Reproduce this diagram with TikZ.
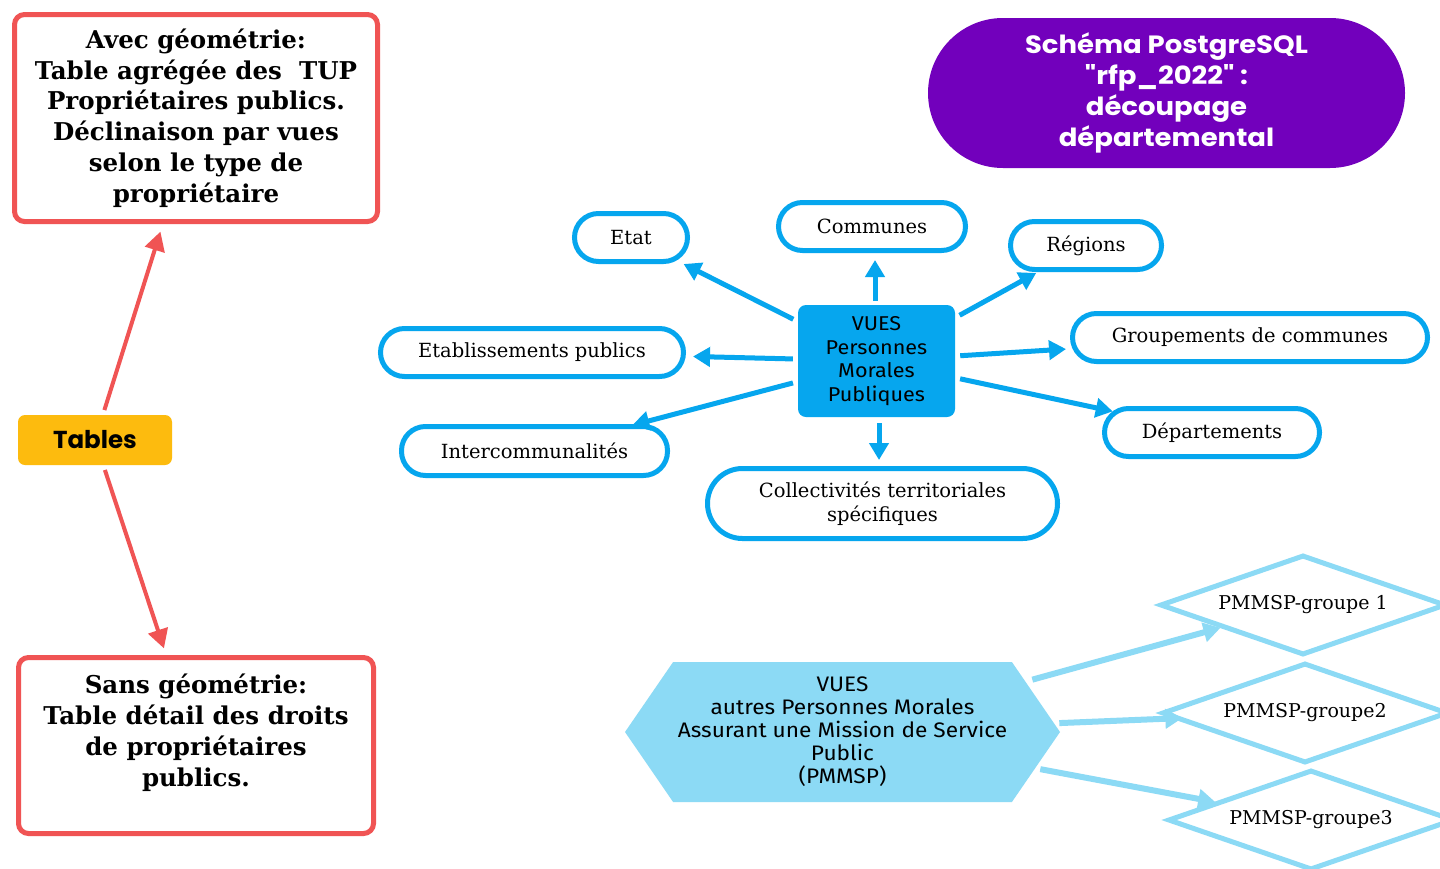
\documentclass[tikz,border=0pt]{standalone}
\usepackage{fontspec}
\setmainfont{DejaVu Serif}
\newfontfamily\popfont[FakeStretch=1.1]{Poppins}
\newfontfamily\popplain{Poppins}
\newfontfamily\firafont[FakeStretch=1.08]{Fira Sans}
\usetikzlibrary{arrows.meta,shapes.geometric,shapes.symbols}
\definecolor{redc}{RGB}{240,84,84}
\definecolor{yel}{RGB}{253,187,14}
\definecolor{purp}{RGB}{114,0,188}
\definecolor{blu}{RGB}{6,166,238}
\definecolor{lblu}{RGB}{140,218,245}
\begin{document}
\begin{tikzpicture}[x=1pt,y=-1pt,
  redbox/.style={draw=redc, line width=5pt, rounded corners=10pt, fill=white, align=center,
    font=\fontsize{24.5}{30.7}\selectfont\bfseries, inner sep=0pt},
  pill/.style={draw=blu, line width=5pt, rounded corners=24pt, fill=white, align=center,
    font=\fontsize{19.5}{24}\selectfont, inner sep=0pt, minimum height=48pt},
  dia/.style={diamond, aspect=2.86, draw=lblu, line width=5pt, fill=white, inner sep=0pt,
    minimum width=286pt, minimum height=100pt, font=\fontsize{19}{22}\selectfont},
  bluarrow/.style={draw=blu, line width=5pt, -{Triangle[length=17pt,width=19pt]}},
  lbluarrow/.style={draw=lblu, line width=6pt, -{Triangle[length=17pt,width=19pt]}},
  redarrow/.style={draw=redc, line width=4pt, -{Triangle[length=19pt,width=20pt]}}
]
\useasboundingbox (0,0) rectangle (1440,868);
\clip (0,0) rectangle (1440,868);
\fill[white] (0,0) rectangle (1440,868);

% left column
\node[redbox, minimum width=363pt, minimum height=207pt] (avec) at (196,118)
  {Avec géométrie:\\Table agrégée des\ \ TUP\\Propriétaires publics.\\Déclinaison par vues\\selon le type de\\propriétaire};
\node[redbox, minimum width=355pt, minimum height=176pt] (sans) at (196,745.5)
  {Sans géométrie:\\Table détail des droits\\de propriétaires\\publics.\\ \mbox{}};
\node[fill=yel, rounded corners=7pt, minimum width=154pt, minimum height=50pt, inner sep=0pt,
  font=\popplain\bfseries\fontsize{24.5}{28}\selectfont] (tables) at (95,440) {Tables};
\draw[redarrow, shorten <=5pt, shorten >=8pt] (tables) -- (avec);
\draw[redarrow, shorten <=5pt, shorten >=7pt] (tables) -- (sans);

% title
\node[fill=purp, rounded corners=75pt, minimum width=477pt, minimum height=150pt, inner sep=0pt,
  text=white, align=center, font=\popfont\bfseries\fontsize{25}{31}\selectfont] (title) at (1166.5,93)
  {Schéma PostgreSQL\\"rfp\_2022" :\\découpage\\départemental};

% central star
\node[fill=blu, rounded corners=8pt, minimum width=157pt, minimum height=112pt, inner sep=0pt,
  align=center, font=\firafont\fontsize{20}{23.5}\selectfont] (vues) at (876.5,361)
  {VUES\\Personnes\\Morales\\Publiques};
\node[pill, minimum width=113pt] (etat) at (631,237.5) {Etat};
\node[pill, minimum width=187pt] (communes) at (872,226.5) {Communes};
\node[pill, minimum width=151pt] (regions) at (1086,245.5) {Régions};
\node[pill, minimum width=303pt] (etab) at (532,352.5) {Etablissements publics};
\node[pill, minimum width=355pt] (grp) at (1250,337.5) {Groupements de communes};
\node[pill, minimum width=266pt, minimum height=49pt] (inter) at (534.5,451) {Intercommunalités};
\node[pill, minimum width=215pt] (dep) at (1212,432.5) {Départements};
\node[pill, minimum width=350pt, minimum height=70pt, rounded corners=35pt] (coll) at (882.5,503.5)
  {Collectivités territoriales\\spécifiques};

\draw[bluarrow, shorten <=5pt, shorten >=0pt] (vues) -- (etat);
\draw[bluarrow, shorten <=4pt, shorten >=7pt] ([xshift=-1.5pt]vues.north) -- ([xshift=-1.5pt]vues.north |- communes.south);
\draw[bluarrow, shorten <=5pt, shorten >=2pt] (vues) -- (regions);
\draw[bluarrow, shorten <=5pt, shorten >=7pt] (vues) -- (etab);
\draw[bluarrow, shorten <=5pt, shorten >=4pt] (vues) -- (grp);
\draw[bluarrow, shorten <=5pt, shorten >=-5pt] (vues) -- (inter);
\draw[bluarrow, shorten <=5pt, shorten >=-11pt] (vues) -- (dep);
\draw[bluarrow, shorten <=6pt, shorten >=6pt] ([xshift=2.5pt]vues.south) -- ([xshift=2.5pt]vues.south |- coll.north);

% PMMSP
\node[signal, signal to=west and east, signal pointer angle=111, fill=lblu, draw=none,
  minimum width=435pt, minimum height=140pt, inner sep=0pt, align=center,
  font=\firafont\fontsize{21}{23}\selectfont] (pmmsp) at (842.5,732)
  {VUES\\autres Personnes Morales\\Assurant une Mission de Service\\Public\\(PMMSP)};
\node[dia] (g1) at (1303,605) {PMMSP-groupe 1};
\node[dia] (g2) at (1305,713) {PMMSP-groupe2};
\node[dia] (g3) at (1311,820) {PMMSP-groupe3};
\draw[lbluarrow, shorten <=7pt, shorten >=0pt] (pmmsp) -- (g1);
\draw[lbluarrow, shorten <=5pt, shorten >=-8pt] (pmmsp) -- (g2);
\draw[lbluarrow, shorten <=5pt, shorten >=0pt] (pmmsp) -- (g3);
\end{tikzpicture}
\end{document}
